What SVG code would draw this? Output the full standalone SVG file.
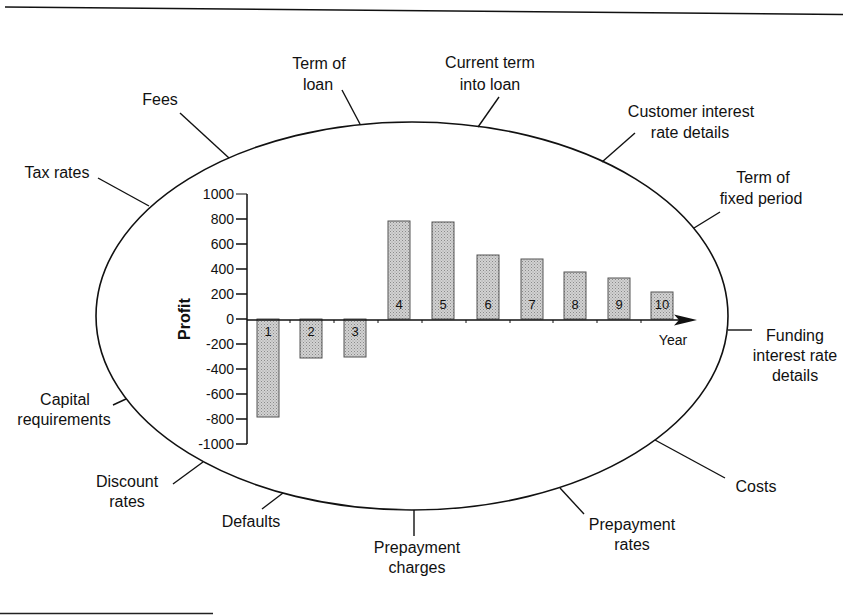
<svg xmlns="http://www.w3.org/2000/svg" width="843" height="615" viewBox="0 0 843 615">
<style>
text{font-family:"Liberation Sans",Arial,sans-serif;fill:#111}
.lbl{font-size:16px;text-anchor:middle}
.tick{font-size:14px;text-anchor:end}
.bn{font-size:13px;text-anchor:middle}
.conn{stroke:#111;stroke-width:1.4;fill:none}
.bar{fill:url(#dots);stroke:#555;stroke-width:1}
.ax{stroke:#111;stroke-width:1.5;fill:none}
</style>
<defs>
<pattern id="dots" width="3" height="3" patternUnits="userSpaceOnUse">
<rect width="3" height="3" fill="#d2d2d2"/>
<rect x="0" y="0" width="1" height="1" fill="#8a8a8a"/>
<rect x="1.5" y="1.5" width="1" height="1" fill="#9a9a9a"/>
</pattern>
</defs>
<rect width="843" height="615" fill="#fff"/>
<line x1="5" y1="7" x2="843" y2="14.5" stroke="#111" stroke-width="1.6"/>
<line x1="0" y1="613.5" x2="213" y2="613.5" stroke="#222" stroke-width="1.6"/>

<g id="ellipse"><ellipse cx="412" cy="316" rx="316" ry="194" fill="none" stroke="#111" stroke-width="1.6"/></g>

<g id="connectors">
<line class="conn" x1="98" y1="178" x2="149" y2="206"/>
<line class="conn" x1="180" y1="113" x2="229" y2="158"/>
<line class="conn" x1="342" y1="90" x2="360" y2="124"/>
<line class="conn" x1="499" y1="97" x2="478" y2="127"/>
<line class="conn" x1="635" y1="133" x2="602" y2="162"/>
<line class="conn" x1="720" y1="212" x2="694" y2="228"/>
<line class="conn" x1="728" y1="330" x2="752" y2="330"/>
<line class="conn" x1="725" y1="478" x2="655" y2="440"/>
<line class="conn" x1="584" y1="514" x2="560" y2="488"/>
<line class="conn" x1="414" y1="510" x2="414" y2="536"/>
<line class="conn" x1="262" y1="509" x2="283" y2="493"/>
<line class="conn" x1="173" y1="484" x2="203" y2="462"/>
<line class="conn" x1="113" y1="405" x2="126" y2="399"/>
</g>

<g id="n-tax"><text class="lbl" x="57" y="178">Tax rates</text></g>
<g id="n-fees"><text class="lbl" x="160" y="105">Fees</text></g>
<g id="n-termloan"><text class="lbl" x="319" y="69">Term of</text><text class="lbl" x="318" y="90">loan</text></g>
<g id="n-current"><text class="lbl" x="490" y="68">Current term</text><text class="lbl" x="490" y="90">into loan</text></g>
<g id="n-customer"><text class="lbl" x="691" y="117">Customer interest</text><text class="lbl" x="690" y="138">rate details</text></g>
<g id="n-fixed"><text class="lbl" x="763" y="183">Term of</text><text class="lbl" x="761" y="204">fixed period</text></g>
<g id="n-funding"><text class="lbl" x="795" y="341">Funding</text><text class="lbl" x="795" y="361">interest rate</text><text class="lbl" x="795" y="381">details</text></g>
<g id="n-costs"><text class="lbl" x="756" y="492">Costs</text></g>
<g id="n-prates"><text class="lbl" x="632" y="530">Prepayment</text><text class="lbl" x="632" y="550">rates</text></g>
<g id="n-pcharges"><text class="lbl" x="417" y="553">Prepayment</text><text class="lbl" x="417" y="573">charges</text></g>
<g id="n-defaults"><text class="lbl" x="251" y="527">Defaults</text></g>
<g id="n-discount"><text class="lbl" x="127" y="487">Discount</text><text class="lbl" x="127" y="507">rates</text></g>
<g id="n-capital"><text class="lbl" x="65" y="405">Capital</text><text class="lbl" x="64" y="425">requirements</text></g>

<g id="chart">
<text x="190" y="319" font-size="16" font-weight="bold" text-anchor="middle" transform="rotate(-90 190 319)">Profit</text>
<line class="ax" x1="247" y1="194" x2="247" y2="444"/>
<g stroke="#111" stroke-width="1.5">
<line x1="236" y1="194" x2="247" y2="194" stroke-width="1"/>
<line x1="236" y1="219" x2="247" y2="219"/>
<line x1="236" y1="244" x2="247" y2="244"/>
<line x1="236" y1="269" x2="247" y2="269"/>
<line x1="236" y1="294" x2="247" y2="294"/>
<line x1="236" y1="319" x2="247" y2="319"/>
<line x1="236" y1="344" x2="247" y2="344"/>
<line x1="236" y1="369" x2="247" y2="369"/>
<line x1="236" y1="394" x2="247" y2="394"/>
<line x1="236" y1="419" x2="247" y2="419"/>
<line x1="236" y1="444" x2="247" y2="444"/>
</g>
<text class="tick" x="234" y="199">1000</text>
<text class="tick" x="234" y="224">800</text>
<text class="tick" x="234" y="249">600</text>
<text class="tick" x="234" y="274">400</text>
<text class="tick" x="234" y="299">200</text>
<text class="tick" x="234" y="324">0</text>
<text class="tick" x="234" y="349">-200</text>
<text class="tick" x="234" y="374">-400</text>
<text class="tick" x="234" y="399">-600</text>
<text class="tick" x="234" y="424">-800</text>
<text class="tick" x="234" y="449">-1000</text>

<g id="bars">
<rect class="bar" x="257" y="319" width="22" height="98"/>
<rect class="bar" x="300" y="319" width="22" height="39"/>
<rect class="bar" x="344" y="319" width="22" height="38"/>
<rect class="bar" x="388" y="221" width="22" height="98"/>
<rect class="bar" x="432" y="222" width="22" height="97"/>
<rect class="bar" x="477" y="255" width="22" height="64"/>
<rect class="bar" x="521" y="259" width="22" height="60"/>
<rect class="bar" x="564" y="272" width="22" height="47"/>
<rect class="bar" x="608" y="278" width="22" height="41"/>
<rect class="bar" x="651" y="292" width="22" height="27"/>
</g>
<text class="bn" x="268" y="336">1</text>
<text class="bn" x="311" y="336">2</text>
<text class="bn" x="355" y="336">3</text>
<text class="bn" x="399" y="309">4</text>
<text class="bn" x="443" y="309">5</text>
<text class="bn" x="488" y="309">6</text>
<text class="bn" x="532" y="309">7</text>
<text class="bn" x="575" y="309">8</text>
<text class="bn" x="619" y="309">9</text>
<text class="bn" x="662" y="309">10</text>

<line class="ax" x1="247" y1="320" x2="680" y2="320"/>
<polygon points="674,314.5 697,320 674,325.5 679,320" fill="#111"/>
<g stroke="#111" stroke-width="1">
<line x1="290" y1="320" x2="290" y2="323"/>
<line x1="334" y1="320" x2="334" y2="323"/>
<line x1="378" y1="320" x2="378" y2="323"/>
<line x1="422" y1="320" x2="422" y2="323"/>
<line x1="466" y1="320" x2="466" y2="323"/>
<line x1="510" y1="320" x2="510" y2="323"/>
<line x1="553" y1="320" x2="553" y2="323"/>
<line x1="597" y1="320" x2="597" y2="323"/>
<line x1="641" y1="320" x2="641" y2="323"/>
</g>
<text x="673" y="345" font-size="14" text-anchor="middle">Year</text>
</g>
</svg>
